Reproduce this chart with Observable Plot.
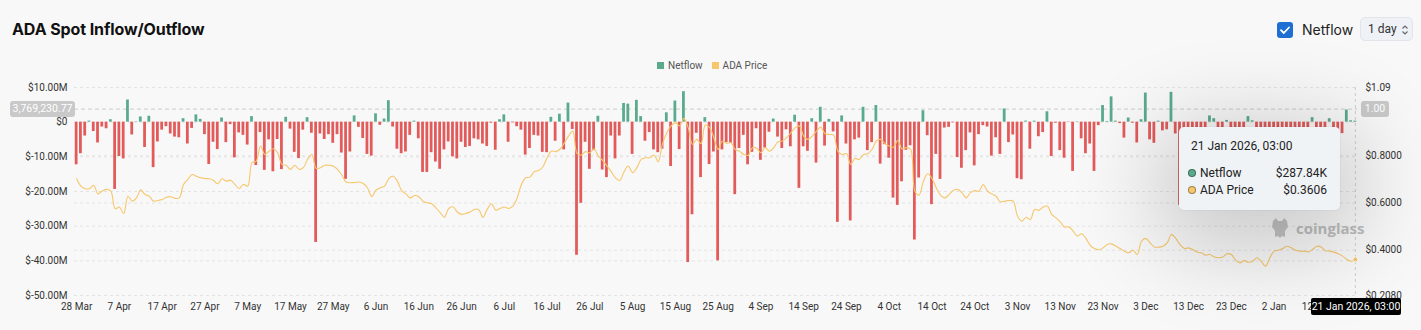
<!DOCTYPE html>
<html>
<head>
<meta charset="utf-8">
<script src="https://cdn.jsdelivr.net/npm/d3@7"></script>
<script src="https://cdn.jsdelivr.net/npm/@observablehq/plot@0.6"></script>
<style>
  html, body { margin: 0; padding: 0; background: #f8f8f8; }
  #wrap { position: relative; width: 1421px; height: 330px; overflow: hidden; font-family: Roboto, "Noto Sans", sans-serif; }
  #chart { position: absolute; left: 0; top: 0; }
  #title { position: absolute; left: 12px; top: 19px; font-family: Inter, Roboto, sans-serif; font-weight: 700; font-size: 16px; color: #111; letter-spacing: -0.1px; }
  #chk { position: absolute; left: 1277px; top: 22px; width: 16px; height: 16px; border-radius: 3px; background: #1f6fd3; }
  #chkLabel { position: absolute; left: 1302px; top: 21px; font-size: 14px; color: #222; font-family: Inter, Roboto, sans-serif; }
  #sel { position: absolute; left: 1360px; top: 17px; width: 53px; height: 24px; border-radius: 5px; background: #eef1f5; border: 1px solid #e1e5ea; box-sizing: border-box; font-size: 12px; color: #333; }
  #legend { position: absolute; top: 60px; left: 657px; font-size: 10px; color: #555; display: flex; align-items: center; }
  #legend .sw { width: 7px; height: 7px; display: inline-block; margin-right: 4px; }
  .pill { position: absolute; background: #c9c9c9; color: #fff; font-size: 10.5px; border-radius: 3px; text-align: center; line-height: 16px; height: 16px; }
  #tip { position: absolute; left: 1179px; top: 127px; width: 161px; height: 83px; background: #f0f3f6; border-radius: 5px; box-shadow: 0 18px 90px 18px rgba(0,0,0,0.2), 0 0 0 1px rgba(0,0,0,0.03); font-size: 12px; color: #222; }
  #tip .row { position: absolute; left: 9px; right: 13px; display: flex; align-items: center; }
  #tip .dot { width: 6px; height: 6px; border-radius: 50%; margin-right: 4px; border: 1px solid rgba(0,0,0,0.35); }
  #tip .v { margin-left: auto; }
  #badge { position: absolute; left: 1311px; top: 298px; width: 90px; height: 17px; background: #000; color: #fff; font-size: 10.5px; line-height: 17px; text-align: center; border-radius: 2px; }
  #wm { position: absolute; left: 1270px; top: 217px; display: flex; align-items: center; color: #bdbdbd; font-weight: 700; font-size: 15px; font-family: "Open Sans", Roboto, sans-serif; }
</style>
</head>
<body>
<div id="wrap">
  <div id="chart"></div>
  <div id="title">ADA Spot Inflow/Outflow</div>
  <div id="chk"><svg width="16" height="16"><path d="M4 8.2 L6.8 11 L12 5.5" stroke="#fff" stroke-width="1.8" fill="none" stroke-linecap="round" stroke-linejoin="round"/></svg></div>
  <div id="chkLabel">Netflow</div>
  <div id="sel"><span style="position:absolute;left:7px;top:4px;">1 day</span>
    <svg style="position:absolute;left:40px;top:6px" width="8" height="12"><path d="M1.5 4.5 L4 2 L6.5 4.5 M1.5 7.5 L4 10 L6.5 7.5" stroke="#666" stroke-width="1.1" fill="none"/></svg></div>
  <div id="legend"></div>
  <div class="pill" style="left:10px;top:101px;width:65px;">3,769,230.77</div>
  <div class="pill" style="left:1361px;top:101px;width:28px;">1.00</div>
  <div id="wm"><svg width="20" height="22" viewBox="0 0 20 22"><path d="M3 4 L6 1 L8 4 L12 4 L14 1 L17 4 L18 10 L15 14 L15 20 L12 19 L10 21 L8 19 L5 20 L5 14 L2 10 Z" fill="#c4c4c4"/></svg><span style="margin-left:6px">coinglass</span></div>
  <div id="tip"></div>
  <div id="badge"></div>
</div>
<script>
const GREEN = "#5aab8e";
const RED = "#e25b5a";
const YELLOW = "#f6c76b";

const startDate = Date.UTC(2025, 2, 28);

// Daily netflow, millions of USD (28 Mar 2025 -> 21 Jan 2026)
const netflowM = [
  -12.3, -9.1, -4.0, 0.3, -2.7, -6.0, -1.4, -1.9, 0.7, -19.4,
  -9.9, -10.6, 6.4, -3.7, 0.1, 1.5, -7.3, 1.7, -13.1, -5.7,
  -2.3, -1.3, -3.4, -4.3, -4.5, 1.0, -6.3, -1.8, 2.1, 0.8,
  -3.6, -12.2, -5.8, -7.9, 1.2, -5.9, -0.7, -10.3, -3.1, -3.8,
  -6.6, 1.6, -12.5, -3.0, -13.9, -5.1, -14.3, -5.0, -13.7, 1.4,
  -2.0, -8.7, -10.5, -2.3, 1.3, -3.2, -34.7, -3.4, -5.0, -3.6,
  -6.1, -3.6, -8.9, -16.5, -8.6, 1.8, -1.5, -4.7, -9.3, -9.8,
  2.4, -0.9, 0.9, 6.2, -1.4, -7.8, -9.1, -8.6, -3.8, 0.3,
  -4.8, -14.5, -14.5, -8.8, -11.5, -13.6, -8.0, -5.7, -10.0, -10.6,
  -5.8, -7.3, -7.0, -4.8, -5.1, -6.3, -7.0, -0.3, -8.1, 0.7,
  2.1, -5.8, -0.2, -1.3, -2.3, -9.5, -7.6, -3.8, -4.0, -8.7,
  -8.8, 1.4, -5.5, 2.3, -8.0, 5.5, -2.1, -38.4, -23.4, -5.8,
  -13.6, -8.2, 1.7, -13.8, -16.0, -4.0, -10.6, -4.0, 5.4, 5.2,
  -9.3, 6.3, 1.6, -5.5, -3.0, -8.0, -8.8, -7.8, 2.7, -12.8,
  6.1, -7.9, 8.8, -40.5, -26.7, -3.2, -16.0, 1.3, -12.2, -8.6,
  -40.0, -8.0, -5.9, -6.1, -20.9, -7.6, -3.8, -12.3, -8.7, -1.9,
  -11.0, -7.5, -2.9, 0.9, -4.3, -7.6, -2.2, -7.1, 2.0, -19.1,
  -7.1, -8.4, 1.0, -11.8, 4.3, -6.9, 0.8, -2.8, -28.9, 1.8,
  -6.3, -28.5, -5.1, -4.6, 4.3, -8.2, -5.9, 4.8, -12.1, -6.5,
  -10.4, -21.9, -24.0, -17.2, -8.1, -6.8, -34.0, -16.1, 3.3, -3.9,
  -23.8, -9.3, -16.5, -1.7, -1.5, -0.2, -10.2, -13.3, -8.2, -3.1,
  -12.6, -3.6, -1.0, -1.4, -9.8, -4.5, -9.3, 3.8, -5.9, -3.7,
  -16.3, -16.6, 0.3, -7.8, 0.3, -4.2, -3.0, 3.0, -9.9, -0.3,
  -8.2, -10.4, -0.1, -14.2, 0.1, -4.8, -9.1, -6.3, -14.2, -1.0,
  4.8, 0.2, 7.3, 0.3, -0.4, -4.6, 1.2, -0.3, -6.0, 0.7,
  8.4, -5.1, -6.1, 0.3, -2.5, -2.2, 8.6, -3.4, -24.0, -4.2,
  -6.5, -3.1, -8.4, -5.2, -2.9, 1.8, 1.0, -5.6, -3.8, 0.5,
  -7.2, -4.4, -2.6, -6.1, 1.6, 0.4, -3.5, -5.0, -2.8, -6.7,
  -4.1, -3.3, -7.5, -2.4, -5.3, -3.9, -6.2, -4.6, -2.9, 1.3,
  -4.0, -3.1, -5.5, 1.0, -2.0, -2.5, -3.3, 3.5, 0.4, 0.29
];

// Daily ADA price, USD
const adaPrice = [
  0.703, 0.672, 0.661, 0.661, 0.675, 0.639, 0.651, 0.658, 0.651, 0.576,
  0.583, 0.556, 0.629, 0.608, 0.622, 0.656, 0.636, 0.629, 0.608, 0.611,
  0.615, 0.625, 0.627, 0.620, 0.622, 0.679, 0.700, 0.721, 0.714, 0.707,
  0.704, 0.703, 0.696, 0.682, 0.703, 0.693, 0.697, 0.679, 0.662, 0.679,
  0.672, 0.771, 0.778, 0.842, 0.806, 0.820, 0.830, 0.813, 0.764, 0.760,
  0.743, 0.760, 0.743, 0.750, 0.785, 0.806, 0.747, 0.750, 0.760, 0.760,
  0.757, 0.743, 0.719, 0.689, 0.686, 0.687, 0.689, 0.683, 0.665, 0.627,
  0.655, 0.665, 0.672, 0.704, 0.714, 0.693, 0.653, 0.639, 0.622, 0.632,
  0.627, 0.608, 0.601, 0.597, 0.580, 0.559, 0.540, 0.577, 0.584, 0.562,
  0.552, 0.556, 0.562, 0.573, 0.573, 0.540, 0.573, 0.597, 0.570, 0.577,
  0.583, 0.577, 0.587, 0.622, 0.679, 0.707, 0.710, 0.733, 0.738, 0.753,
  0.792, 0.820, 0.818, 0.828, 0.853, 0.884, 0.905, 0.811, 0.804, 0.818,
  0.813, 0.830, 0.799, 0.781, 0.757, 0.733, 0.707, 0.696, 0.733, 0.757,
  0.729, 0.750, 0.785, 0.792, 0.792, 0.804, 0.775, 0.852, 0.898, 0.927,
  0.941, 0.927, 0.959, 0.920, 0.849, 0.870, 0.852, 0.931, 0.920, 0.877,
  0.827, 0.863, 0.853, 0.856, 0.827, 0.820, 0.806, 0.802, 0.835, 0.832,
  0.813, 0.835, 0.820, 0.835, 0.860, 0.863, 0.877, 0.898, 0.920, 0.927,
  0.884, 0.870, 0.884, 0.905, 0.922, 0.894, 0.891, 0.888, 0.820, 0.806,
  0.810, 0.764, 0.789, 0.785, 0.806, 0.809, 0.828, 0.863, 0.870, 0.852,
  0.842, 0.837, 0.866, 0.830, 0.835, 0.828, 0.650, 0.634, 0.693, 0.724,
  0.704, 0.665, 0.634, 0.622, 0.636, 0.653, 0.658, 0.644, 0.622, 0.644,
  0.653, 0.650, 0.679, 0.650, 0.639, 0.629, 0.605, 0.608, 0.611, 0.608,
  0.545, 0.523, 0.540, 0.530, 0.573, 0.569, 0.583, 0.587, 0.552, 0.537,
  0.520, 0.498, 0.499, 0.481, 0.460, 0.470, 0.450, 0.421, 0.407, 0.402,
  0.410, 0.424, 0.427, 0.417, 0.407, 0.396, 0.389, 0.400, 0.382, 0.438,
  0.450, 0.431, 0.414, 0.413, 0.417, 0.431, 0.467, 0.450, 0.424, 0.407,
  0.410, 0.403, 0.392, 0.389, 0.379, 0.382, 0.371, 0.368, 0.371, 0.385,
  0.382, 0.358, 0.346, 0.356, 0.349, 0.353, 0.368, 0.353, 0.332, 0.368,
  0.396, 0.400, 0.407, 0.417, 0.410, 0.400, 0.396, 0.396, 0.393, 0.403,
  0.417, 0.414, 0.398, 0.396, 0.392, 0.385, 0.375, 0.361, 0.353, 0.3606
];

const netflowTicks = [10, 0, -10, -20, -30, -40, -50];
const priceTicks = [1.09, 0.8, 0.6, 0.4, 0.208];
const priceTickLabels = ["$1.09", "$0.8000", "$0.6000", "$0.4000", "$0.2080"];
const seriesNames = ["Netflow", "ADA Price"];
const crosshairNetflowM = 3.76923077;
const tooltipTitle = "21 Jan 2026, 03:00";
const tooltipValues = ["$287.84K", "$0.3606"];

const Y_MIN = -50, Y_MAX = 10, P_MIN = 0.208, P_MAX = 1.09;
const toY = p => Y_MIN + (p - P_MIN) / (P_MAX - P_MIN) * (Y_MAX - Y_MIN);

const data = netflowM.map((v, i) => {
  const d = d3.utcDay.offset(new Date(startDate), i);
  return {date: d, next: d3.utcDay.offset(d, 1), mid: d3.utcHour.offset(d, 12), net: v, price: adaPrice[i]};
});
const last = data[data.length - 1];
const xTicks = data.filter((d, i) => i % 10 === 0).map(d => d.mid);
const fmtM = d => d === 0 ? "$0" : `$${d.toFixed(2)}M`;
const fmtP = v => {
  const k = priceTicks.findIndex(p => Math.abs(toY(p) - v) < 1e-6);
  return k >= 0 ? priceTickLabels[k] : "";
};
const gridStyle = {stroke: "#e3e3e3", strokeOpacity: 1, strokeDasharray: "3,3"};

const chart = Plot.plot({
  width: 1421,
  height: 315,
  marginTop: 87,
  marginBottom: 20,
  marginLeft: 74,
  marginRight: 64,
  x: {type: "utc", domain: [data[0].date, last.next]},
  y: {domain: [Y_MIN, Y_MAX]},
  style: {background: "transparent", fontFamily: "Roboto, sans-serif", fontSize: "10px", color: "#333"},
  marks: [
    Plot.gridY(netflowTicks, gridStyle),
    Plot.gridY(priceTicks.slice(1, 4).map(toY), gridStyle),
    Plot.ruleY([crosshairNetflowM], {stroke: "#cccccc", strokeDasharray: "4,3"}),
    Plot.rect(data, {
      x1: "date", x2: "next", y1: 0, y2: "net",
      fill: d => d.net >= 0 ? GREEN : RED,
      insetLeft: 0.75, insetRight: 0.75
    }),
    Plot.line(data, {x: "mid", y: d => toY(d.price), stroke: YELLOW, strokeWidth: 1.1, curve: "catmull-rom"}),
    Plot.ruleX([last.mid], {stroke: "#cfcfcf", strokeDasharray: "3,3"}),
    Plot.dot([last], {x: "mid", y: d => toY(d.price), r: 2.5, fill: YELLOW, stroke: "#fff", strokeWidth: 1}),
    Plot.axisY(netflowTicks, {anchor: "left", tickSize: 0, tickPadding: 7, tickFormat: fmtM, label: null}),
    Plot.axisY(priceTicks.map(toY), {anchor: "right", tickSize: 0, tickPadding: 8, tickFormat: fmtP, label: null}),
    Plot.axisX(xTicks, {anchor: "bottom", tickSize: 0, tickPadding: 7, tickFormat: d3.utcFormat("%-d %b"), label: null})
  ]
});
document.getElementById("chart").appendChild(chart);

// Legend
const legend = document.getElementById("legend");
[[seriesNames[0], GREEN], [seriesNames[1], YELLOW]].forEach(([name, c], i) => {
  const s = document.createElement("span");
  s.style.display = "flex"; s.style.alignItems = "center";
  s.style.marginRight = i === 0 ? "9px" : "0";
  s.innerHTML = `<span class="sw" style="background:${c}"></span>${name}`;
  legend.appendChild(s);
});

// Tooltip
const tip = document.getElementById("tip");
tip.innerHTML = `<div style="position:absolute;left:12px;top:12px;">${tooltipTitle}</div>
  <div class="row" style="top:39px"><span class="dot" style="background:${GREEN}"></span>${seriesNames[0]}<span class="v">${tooltipValues[0]}</span></div>
  <div class="row" style="top:56px"><span class="dot" style="background:${YELLOW}"></span>${seriesNames[1]}<span class="v">${tooltipValues[1]}</span></div>`;
document.getElementById("badge").textContent = tooltipTitle;
</script>
</body>
</html>
